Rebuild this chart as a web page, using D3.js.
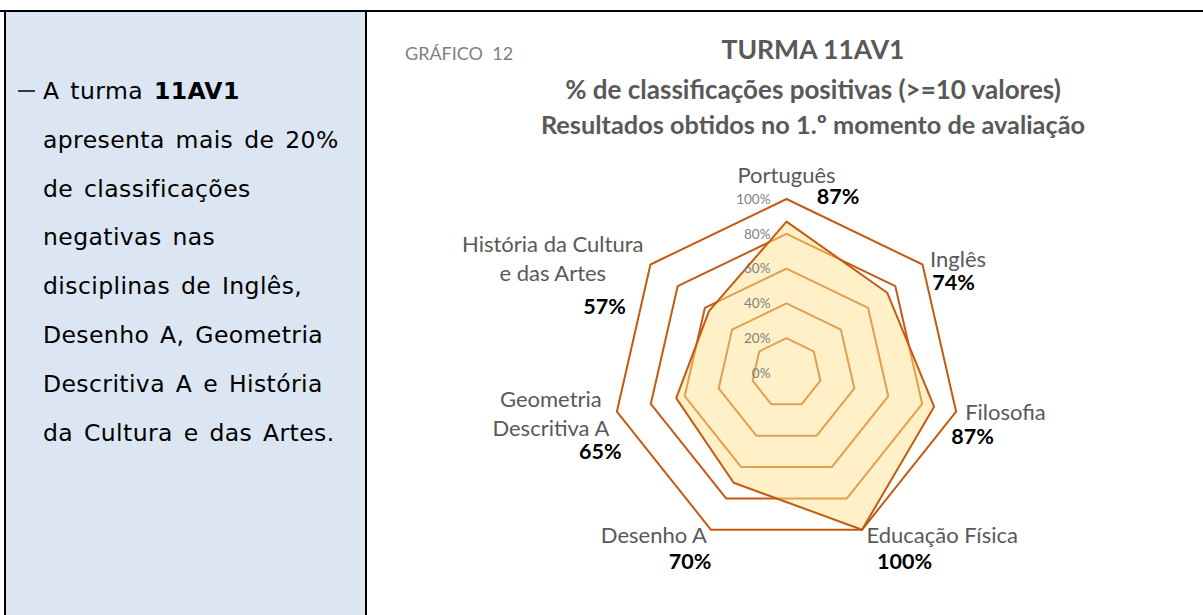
<!DOCTYPE html>
<html>
<head>
<meta charset="utf-8">
<script src="https://cdn.jsdelivr.net/npm/d3@7"></script>
<style>
  body { margin: 0; background: #fff; }
  svg { display: block; }
</style>
</head>
<body>
<svg id="fig" width="1203" height="615"></svg>
<script>
// data
const categories = ["Português", "Inglês", "Filosofia", "Educação Física", "Desenho A", "Geometria Descritiva A", "História da Cultura e das Artes"];
const categoryLines = [["Português"], ["Inglês"], ["Filosofia"], ["Educação Física"], ["Desenho A"], ["Geometria", "Descritiva A"], ["História da Cultura", "e das Artes"]];
const values = [87, 74, 87, 100, 70, 65, 57];
const ticks = [0, 20, 40, 60, 80, 100];
const titleLines = ["TURMA 11AV1", "% de classificações positivas (>=10 valores)", "Resultados obtidos no 1.º momento de avaliação"];
const noteLines = [
    [["A turma ", false], ["11AV1", true]],
    [["apresenta mais de 20%", false]],
    [["de classificações", false]],
    [["negativas nas", false]],
    [["disciplinas de Inglês,", false]],
    [["Desenho A, Geometria", false]],
    [["Descritiva A e História", false]],
    [["da Cultura e das Artes.", false]]
];

const chartFont = "Lato, 'Open Sans', sans-serif";
const noteFont = "'DejaVu Sans', sans-serif";
const dark = "#C55A11";

const svg = d3.select("#fig");

// left note panel
svg.append("rect").attr("x", 6).attr("y", 12).attr("width", 360).attr("height", 610).attr("fill", "#DCE6F2");
svg.append("line").attr("x1", 0).attr("x2", 1203).attr("y1", 11).attr("y2", 11).attr("stroke", "#000").attr("stroke-width", 2);
svg.append("line").attr("x1", 5).attr("x2", 5).attr("y1", 10).attr("y2", 615).attr("stroke", "#000").attr("stroke-width", 2);
svg.append("line").attr("x1", 366).attr("x2", 366).attr("y1", 10).attr("y2", 615).attr("stroke", "#000").attr("stroke-width", 2);

const note = svg.append("g")
    .attr("font-family", noteFont)
    .attr("font-size", 23.5)
    .attr("letter-spacing", 0.4)
    .attr("word-spacing", 3)
    .attr("fill", "#000");
note.append("line").attr("x1", 18).attr("x2", 35).attr("y1", 91).attr("y2", 91).attr("stroke", "#000").attr("stroke-width", 1.5);
note.selectAll("text.line")
    .data(noteLines)
    .join("text")
    .attr("class", "line")
    .attr("x", 43)
    .attr("y", (d, i) => 99 + i * 48.8)
    .selectAll("tspan")
    .data(d => d)
    .join("tspan")
    .attr("font-weight", d => d[1] ? "bold" : null)
    .text(d => d[0]);

// titles
svg.append("text")
    .attr("x", 405).attr("y", 60)
    .attr("font-family", chartFont).attr("font-size", 18).attr("fill", "#7F7F7F")
    .style("white-space", "pre")
    .text("GRÁFICO  12");

svg.selectAll("text.title")
    .data(titleLines)
    .join("text")
    .attr("class", "title")
    .attr("x", 813)
    .attr("y", (d, i) => [59, 99, 134][i])
    .attr("text-anchor", "middle")
    .attr("font-family", chartFont)
    .attr("font-weight", "bold")
    .attr("font-size", (d, i) => [26.5, 26, 25.3][i])
    .attr("fill", "#595959")
    .text(d => d);

// radar
const cx = 786.5, cy = 373, R = 174;
const n = categories.length;
const rScale = d3.scaleLinear().domain([0, 100]).range([0, R]);
const angle = i => i * 2 * Math.PI / n;
const radial = d3.lineRadial()
    .angle((d, i) => angle(i))
    .radius(d => rScale(d))
    .curve(d3.curveLinearClosed);

const g = svg.append("g").attr("transform", `translate(${cx},${cy})`);

// grid rings
g.selectAll("path.grid")
    .data(ticks.filter(t => t > 0))
    .join("path")
    .attr("class", "grid")
    .attr("d", t => radial(categories.map(() => t)))
    .attr("fill", "none")
    .attr("stroke", dark)
    .attr("stroke-width", 2)
    .attr("stroke-linejoin", "round");

// series
g.append("path")
    .attr("d", radial(values))
    .attr("fill", "rgba(255,226,145,0.5)")
    .attr("stroke", dark)
    .attr("stroke-width", 2)
    .attr("stroke-linejoin", "round");

// tick labels
g.selectAll("text.tick")
    .data(ticks)
    .join("text")
    .attr("class", "tick")
    .attr("x", -16)
    .attr("y", t => -rScale(t))
    .attr("dy", "0.35em")
    .attr("text-anchor", "end")
    .attr("font-family", chartFont)
    .attr("font-size", 13.5)
    .attr("fill", "#7F7F7F")
    .text(t => t + "%");

// category labels, placed outside each outer vertex
const vx = i => rScale(100) * Math.sin(angle(i));
const vy = i => -rScale(100) * Math.cos(angle(i));
const catGap = [[0, -16], [7.5, 2], [9, 8.5], [4.5, 13.5], [-4, 13.5], [-7.5, -5], [-7, -13]];
const lineH = 29;

const cats = g.selectAll("text.cat")
    .data(categoryLines)
    .join("text")
    .attr("class", "cat")
    .attr("font-family", chartFont)
    .attr("font-size", 22)
    .attr("fill", "#595959");
cats.selectAll("tspan")
    .data(d => d)
    .join("tspan")
    .attr("x", 0)
    .attr("dy", (d, i) => i ? lineH : 0)
    .attr("text-anchor", "middle")
    .text(d => d);
cats.each(function (d, i) {
    const w = this.getBBox().width;
    const s = Math.sin(angle(i));
    let x = vx(i) + catGap[i][0];
    if (Math.abs(s) < 1e-6) x = vx(i) + catGap[i][0];
    else if (s > 0) x = x + w / 2;
    else x = x - w / 2;
    const y = vy(i) + catGap[i][1];
    d3.select(this).attr("transform", `translate(${x},${y})`);
});

// value labels
const valOffset = [[51.5, 5], [31, 25.5], [16.5, 32.5], [42.5, 39], [-21, 39], [-16.5, 47.5], [-46, 49.5]];
g.selectAll("text.val")
    .data(values)
    .join("text")
    .attr("class", "val")
    .attr("x", (d, i) => vx(i) + valOffset[i][0])
    .attr("y", (d, i) => vy(i) + valOffset[i][1])
    .attr("text-anchor", "middle")
    .attr("font-family", chartFont)
    .attr("font-weight", "bold")
    .attr("font-size", 21.5)
    .attr("fill", "#000")
    .text(d => d + "%");
</script>
</body>
</html>
